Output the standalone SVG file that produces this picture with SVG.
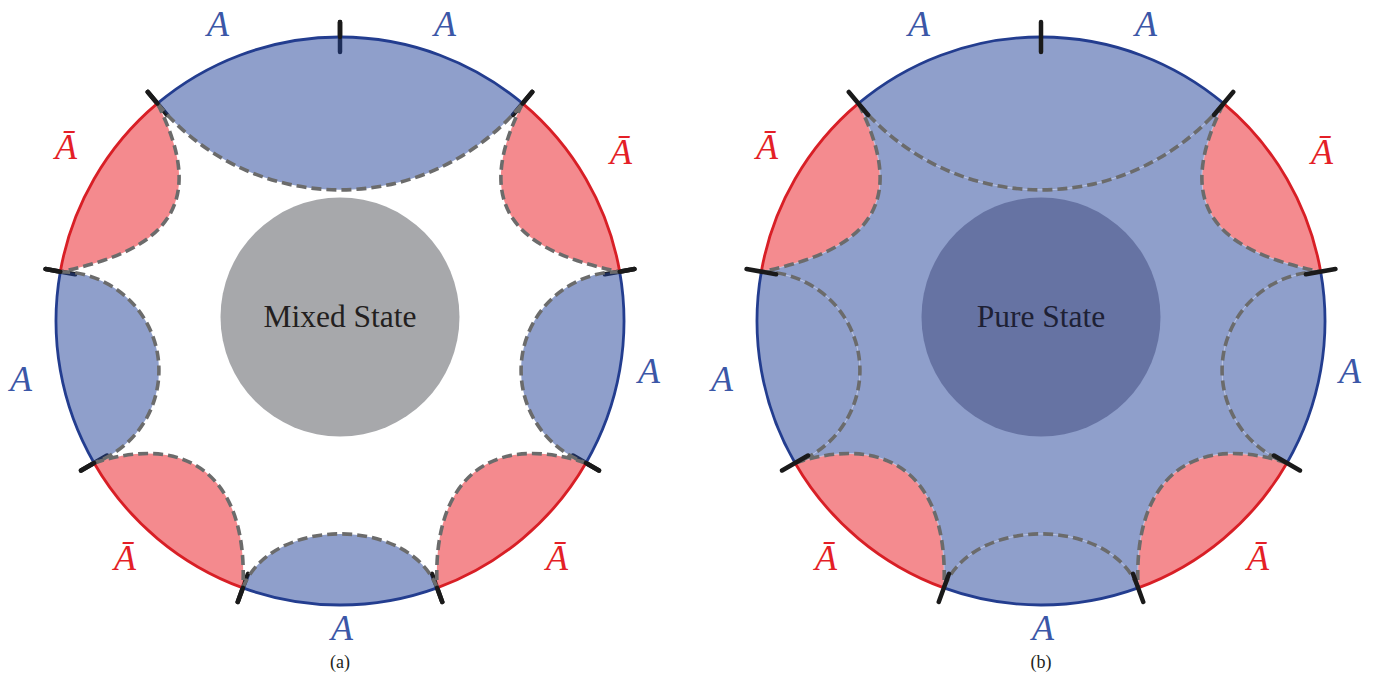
<svg xmlns="http://www.w3.org/2000/svg" xmlns:xlink="http://www.w3.org/1999/xlink" width="1375" height="675" viewBox="0 0 1375 675">
<style>
.fb{fill:#1f3f97;fill-opacity:.5}
.fr{fill:#e9151d;fill-opacity:.5}
.fr2{fill:#f48b8f}
.dash{fill:none;stroke:#6b6b6b;stroke-width:3.6;stroke-dasharray:10 5}
.seam{fill:none;stroke:#c9d1ea;stroke-width:.8}
.bb{fill:none;stroke:#233d8f;stroke-width:2.8}
.br{fill:none;stroke:#d81f26;stroke-width:2.8}
.tick{fill:none;stroke:#1a1a1a;stroke-width:4.5;stroke-linecap:round}
text{font-family:"Liberation Serif","Times New Roman",serif}
.la{font-style:italic;font-size:36px;fill:#3b57a7;text-anchor:middle}
.lr{font-style:italic;font-size:36px;fill:#e41f27;text-anchor:middle}
.st{font-size:31.5px;fill:#231f20;text-anchor:middle}
.cap{font-size:18px;fill:#231f20;text-anchor:middle}
</style>
<defs>
<path id="lobeTop" d="M157.45,103.44 A236,236 0 0 0 522.55,103.44 A284,284 0 0 0 157.45,103.44 Z"/>
<path id="lobeUL" d="M157.45,103.44 C207,202 170.3,249.7 60.31,271.68 A284,284 0 0 1 157.45,103.44 Z"/>
<path id="lobeL" d="M60.31,271.68 A98.64,98.64 0 0 1 94.05,463 A284,284 0 0 1 60.31,271.68 Z"/>
<path id="lobeLL" d="M94.05,463 C189,432 248.4,477.9 242.87,587.87 A284,284 0 0 1 94.05,463 Z"/>
<path id="lobeB" d="M242.87,587.87 C270.8,515.9 409.2,515.9 437.13,587.87 A284,284 0 0 1 242.87,587.87 Z"/>
<path id="lobeLR" d="M585.95,463 C491,432 431.6,477.9 437.13,587.87 A284,284 0 0 0 585.95,463 Z"/>
<path id="lobeR" d="M619.69,271.68 A98.64,98.64 0 0 0 585.95,463 A284,284 0 0 0 619.69,271.68 Z"/>
<path id="lobeUR" d="M522.55,103.44 C473,202 509.7,249.7 619.69,271.68 A284,284 0 0 0 522.55,103.44 Z"/>
<path id="curves" d="M157.45,103.44 A236,236 0 0 0 522.55,103.44 M157.45,103.44 C207,202 170.3,249.7 60.31,271.68 M60.31,271.68 A98.64,98.64 0 0 1 94.05,463 M94.05,463 C189,432 248.4,477.9 242.87,587.87 M242.87,587.87 C270.8,515.9 409.2,515.9 437.13,587.87 M585.95,463 C491,432 431.6,477.9 437.13,587.87 M619.69,271.68 A98.64,98.64 0 0 0 585.95,463 M522.55,103.44 C473,202 509.7,249.7 619.69,271.68"/>
<path id="bdBlue" d="M522.55,103.44 A284,284 0 0 0 157.45,103.44 M60.31,271.68 A284,284 0 0 0 94.05,463 M242.87,587.87 A284,284 0 0 0 437.13,587.87 M585.95,463 A284,284 0 0 0 619.69,271.68"/>
<path id="bdRed" d="M619.69,271.68 A284,284 0 0 0 522.55,103.44 M157.45,103.44 A284,284 0 0 0 60.31,271.68 M94.05,463 A284,284 0 0 0 242.87,587.87 M437.13,587.87 A284,284 0 0 0 585.95,463"/>
<path id="ticks" d="M604.91,274.29 L634.46,269.08 M512.91,114.94 L532.19,91.95 M340,52 L340,22 M167.09,114.94 L147.81,91.95 M75.09,274.29 L45.54,269.08 M107.04,455.5 L81.06,470.5 M248,573.78 L237.74,601.97 M432,573.78 L442.26,601.97 M572.96,455.5 L598.94,470.5"/>
<path id="ticksOut" d="M619.69,271.68 L634.46,269.08 M522.55,103.44 L532.19,91.95 M340,37 L340,22 M157.45,103.44 L147.81,91.95 M60.31,271.68 L45.54,269.08 M94.05,463 L81.06,470.5 M242.87,587.87 L237.74,601.97 M437.13,587.87 L442.26,601.97 M585.95,463 L598.94,470.5"/>
</defs>

<g id="panel-a">
<use xlink:href="#ticks" class="tick"/>
<g id="regions-a">
<use xlink:href="#lobeTop" class="fb"/>
<use xlink:href="#lobeL" class="fb"/>
<use xlink:href="#lobeB" class="fb"/>
<use xlink:href="#lobeR" class="fb"/>
<use xlink:href="#lobeUL" class="fr"/>
<use xlink:href="#lobeLL" class="fr"/>
<use xlink:href="#lobeLR" class="fr"/>
<use xlink:href="#lobeUR" class="fr"/>
</g>
<use xlink:href="#curves" class="dash"/>
<use xlink:href="#bdBlue" class="bb"/>
<use xlink:href="#bdRed" class="br"/>
<use xlink:href="#ticksOut" class="tick"/>
<g id="mixed-state">
<circle cx="340" cy="317" r="119.5" fill="#a7a8ab"/>
<text class="st" x="340" y="327">Mixed State</text>
</g>
<g id="labels-a">
<text class="la" x="218" y="36">A</text>
<text class="la" x="445" y="36">A</text>
<text class="lr" x="66" y="159">Ā</text>
<text class="lr" x="621" y="164">Ā</text>
<text class="la" x="21" y="391">A</text>
<text class="la" x="649" y="383">A</text>
<text class="lr" x="125" y="570">Ā</text>
<text class="lr" x="557" y="570">Ā</text>
<text class="la" x="342" y="640">A</text>
</g>
<text class="cap" x="340" y="668">(a)</text>
</g>

<g id="panel-b" transform="translate(701,0)">
<circle cx="340" cy="321" r="284" fill="#8f9fcb"/>
<use xlink:href="#lobeUL" class="fr2"/>
<use xlink:href="#lobeLL" class="fr2"/>
<use xlink:href="#lobeLR" class="fr2"/>
<use xlink:href="#lobeUR" class="fr2"/>
<use xlink:href="#curves" class="seam"/>
<use xlink:href="#curves" class="dash"/>
<use xlink:href="#bdBlue" class="bb"/>
<use xlink:href="#bdRed" class="br"/>
<use xlink:href="#ticks" class="tick"/>
<g id="pure-state">
<circle cx="340" cy="317" r="119.5" fill="#6673a3"/>
<text class="st" x="340" y="327" style="fill:#1e2135">Pure State</text>
</g>
<g id="labels-b">
<text class="la" x="218" y="36">A</text>
<text class="la" x="445" y="36">A</text>
<text class="lr" x="66" y="159">Ā</text>
<text class="lr" x="621" y="164">Ā</text>
<text class="la" x="21" y="391">A</text>
<text class="la" x="649" y="383">A</text>
<text class="lr" x="125" y="570">Ā</text>
<text class="lr" x="557" y="570">Ā</text>
<text class="la" x="342" y="640">A</text>
</g>
<text class="cap" x="340" y="668">(b)</text>
</g>
</svg>
